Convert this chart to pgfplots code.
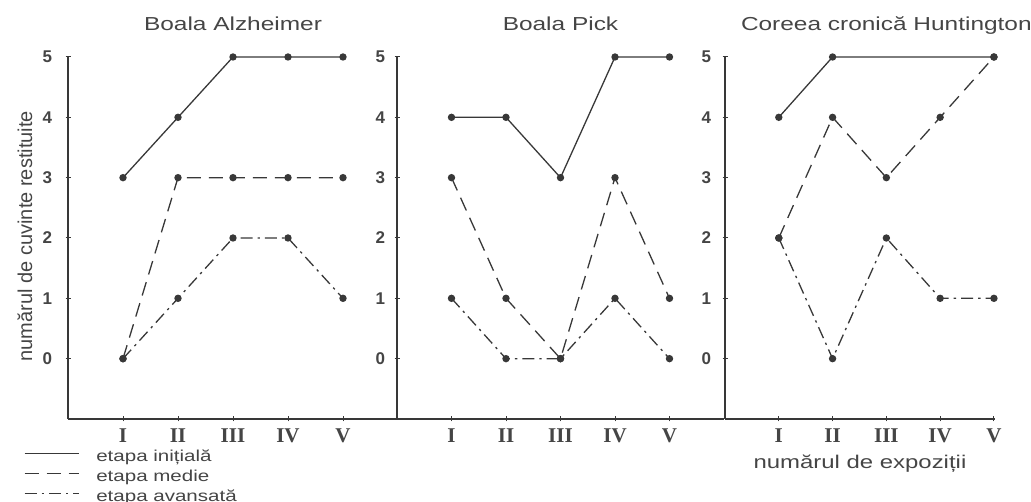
\documentclass[border=0pt]{standalone}
\usepackage{pgfplots}
\pgfplotsset{compat=1.18}
\usepackage{fontspec}
\setmainfont{Liberation Sans}
\newfontfamily\widesans[FakeStretch=1.3]{Liberation Sans}
\newfontfamily\numfont{Liberation Sans}
\newfontfamily\romanfont{Liberation Serif}

\definecolor{ink}{HTML}{383838}
\definecolor{txt}{HTML}{454545}

\tikzset{
  ttl/.style={font=\widesans\fontsize{9.4}{10}\selectfont, text=txt,
    anchor=base, yshift=13pt},
}

\pgfplotsset{
  panel/.style={
    scale only axis, height=181pt,
    ymin=-1, ymax=5, xmin=0,
    axis x line=bottom, axis y line=left,
    axis line style={-, ink, line width=0.65pt},
    clip=false,
    ytick={0,...,5}, yticklabels={0,1,2,3,4,5},
    xtick={1,...,5}, xticklabels={I,II,III,IV,V},
    tick align=center, major tick length=2.5pt,
    tick style={ink, line width=0.5pt},
    yticklabel style={font=\numfont\bfseries\fontsize{8.5}{9}\selectfont,
      text=txt, inner sep=0pt, anchor=east},
    xticklabel style={font=\romanfont\bfseries\fontsize{10.5}{10}\selectfont,
      text=txt, inner sep=0pt, anchor=north, yshift=-3.5pt},
  },
  ini/.style={ink, line width=0.65pt, solid, mark=*, mark size=1.5pt,
    mark options={solid, fill=ink}},
  med/.style={ink, line width=0.65pt, dash pattern=on 7pt off 4pt,
    mark=*, mark size=1.5pt, mark options={solid, fill=ink}},
  ava/.style={ink, line width=0.65pt,
    dash pattern=on 6pt off 2.5pt on 1.2pt off 2.5pt,
    mark=*, mark size=1.5pt, mark options={solid, fill=ink}},
}

\begin{document}
\begin{tikzpicture}
\path[use as bounding box] (0pt,0pt) rectangle (515.5pt,251pt);

% Boala Alzheimer
\begin{axis}[panel, width=165pt, xmax=6,
  at={(34pt,41.5pt)}, anchor=south west,
  yticklabel style={xshift=-6.5pt},
  every axis y label/.style={at={(axis description cs:-0.109,0.505)},
    rotate=90, anchor=base, font=\fontsize{10}{12}\selectfont, text=txt},
  ylabel={numărul de cuvinte restituite},
  legend style={at={(axis description cs:0,0)}, anchor=north west,
    xshift=-22pt, yshift=-15.25pt, draw=none, fill=none,
    inner sep=0pt, outer sep=0pt,
    font=\widesans\fontsize{7.9}{9}\selectfont, text=txt,
    row sep=0pt, column sep=8.5pt,
    nodes={inner sep=0pt, text height=6pt, text depth=4pt}},
  legend cell align=left,
  legend image code/.code={\draw[#1] (0pt,3pt)--(27pt,3pt);},
]
\addplot[ini] coordinates {(1,3) (2,4) (3,5) (4,5) (5,5)};
\addplot[med] coordinates {(1,0) (2,3) (3,3) (4,3) (5,3)};
\addplot[ava] coordinates {(1,0) (2,1) (3,2) (4,2) (5,1)};
\legend{etapa inițială, etapa medie, etapa avansată}
\node[ttl] at (axis cs:3,5) {Boala Alzheimer};
\end{axis}

% Boala Pick
\begin{axis}[panel, width=163.5pt, xmax=6,
  at={(198.5pt,41.5pt)}, anchor=south west,
  yticklabel style={xshift=-4.5pt},
]
\addplot[ini] coordinates {(1,4) (2,4) (3,3) (4,5) (5,5)};
\addplot[med] coordinates {(1,3) (2,1) (3,0) (4,3) (5,1)};
\addplot[ava] coordinates {(1,1) (2,0) (3,0) (4,1) (5,0)};
\node[ttl] at (axis cs:3,5) {Boala Pick};
\end{axis}

% Coreea cronica Huntington
\begin{axis}[panel, width=135pt, xmax=5.02,
  at={(362.5pt,41.5pt)}, anchor=south west,
  yticklabel style={xshift=-5.5pt},
  every axis x label/.style={at={(axis description cs:0.5,0)},
    anchor=base, yshift=-24.5pt,
    font=\widesans\fontsize{9.2}{10}\selectfont, text=txt},
  xlabel={numărul de expoziții},
]
\addplot[ini] coordinates {(1,4) (2,5) (5,5)};
\addplot[med] coordinates {(1,2) (2,4) (3,3) (4,4) (5,5)};
\addplot[ava] coordinates {(1,2) (2,0) (3,2) (4,1) (5,1)};
\node[ttl] at (axis cs:3,5) {Coreea cronică Huntington};
\end{axis}
\end{tikzpicture}
\end{document}
